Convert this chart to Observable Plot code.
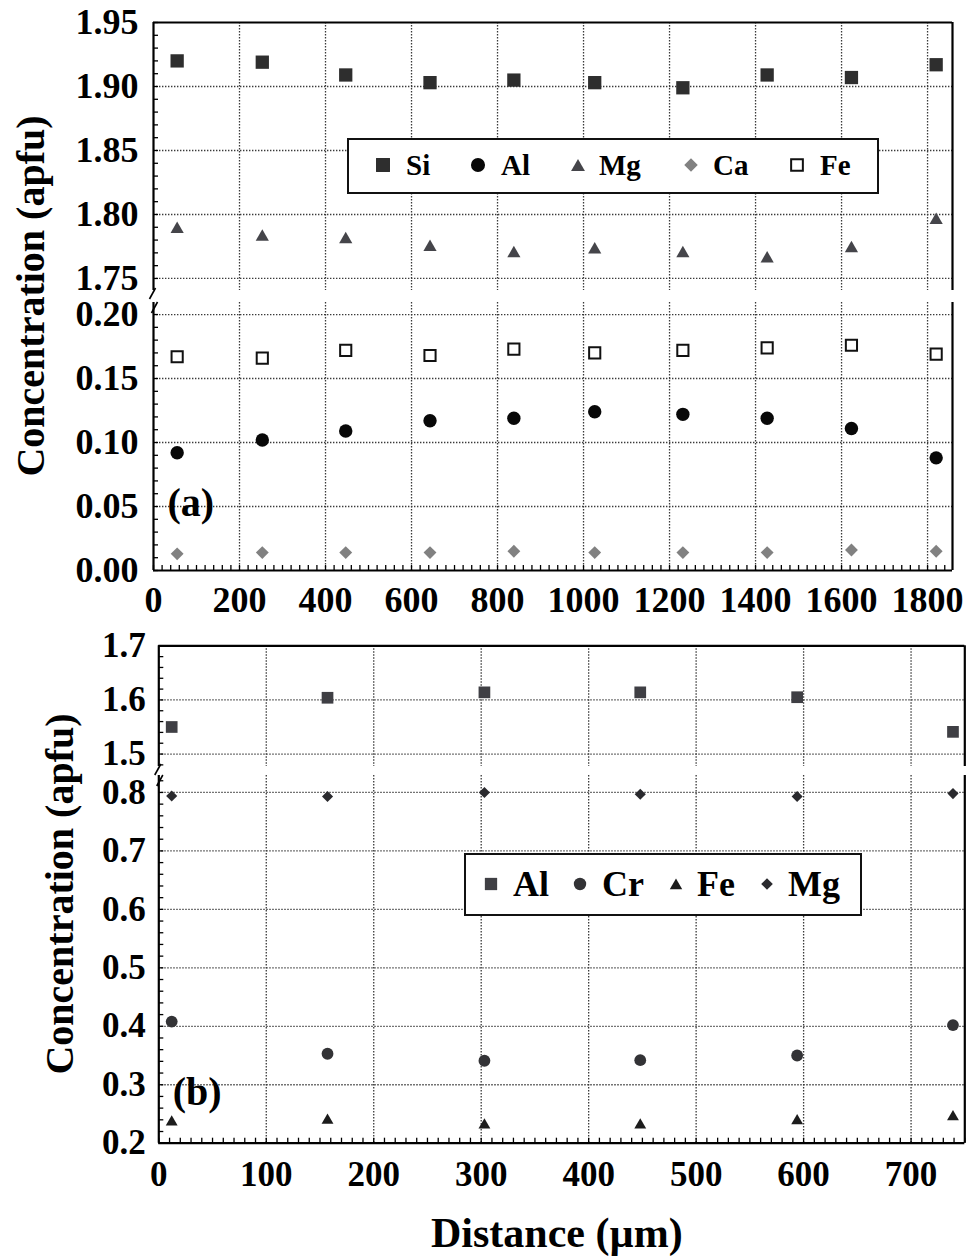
<!DOCTYPE html>
<html><head><meta charset="utf-8">
<script src="https://cdn.jsdelivr.net/npm/d3@7"></script>
<script src="https://cdn.jsdelivr.net/npm/@observablehq/plot@0.6"></script>
<style>
body{margin:0;background:#fff;}
#wrap{position:relative;width:969px;height:1257px;overflow:hidden;background:#fff;font-family:"Liberation Serif","Times New Roman",serif;font-weight:bold;color:#000;}
#wrap > svg{position:absolute;left:0;}
.legend{position:absolute;box-sizing:border-box;border:2px solid #111;background:#fff;z-index:2;}
.legend svg{position:absolute;overflow:visible;}
.legend span{position:absolute;white-space:nowrap;color:#000;}
.ytitle{position:absolute;white-space:nowrap;transform:translate(-50%,-50%) rotate(-90deg);font-size:40px;line-height:40px;}
</style></head><body><div id="wrap"></div><script>
// ---------- Panel (a) data ----------
const distA = [55, 253, 447, 643, 838, 1026, 1231, 1427, 1623, 1820];
const siA = [1.920, 1.919, 1.909, 1.903, 1.905, 1.903, 1.899, 1.909, 1.907, 1.917];
const alA = [0.092, 0.102, 0.109, 0.117, 0.119, 0.124, 0.122, 0.119, 0.111, 0.088];
const mgA = [1.790, 1.784, 1.782, 1.776, 1.771, 1.774, 1.771, 1.767, 1.775, 1.797];
const caA = [0.013, 0.014, 0.014, 0.014, 0.015, 0.014, 0.014, 0.014, 0.016, 0.015];
const feA = [0.167, 0.166, 0.172, 0.168, 0.173, 0.170, 0.172, 0.174, 0.176, 0.169];
const seriesA = ["Si", "Al", "Mg", "Ca", "Fe"];
const xTicksA = [0, 200, 400, 600, 800, 1000, 1200, 1400, 1600, 1800];
const yTicksALow = [0.00, 0.05, 0.10, 0.15, 0.20];
const yTicksAHigh = [1.75, 1.80, 1.85, 1.90, 1.95];

// ---------- Panel (b) data ----------
const distB = [12, 157, 303, 448, 594, 739];
const alB = [1.550, 1.604, 1.614, 1.614, 1.605, 1.541];
const crB = [0.408, 0.353, 0.341, 0.342, 0.350, 0.402];
const feB = [0.239, 0.242, 0.234, 0.234, 0.241, 0.248];
const mgB = [0.794, 0.793, 0.800, 0.797, 0.793, 0.798];
const seriesB = ["Al", "Cr", "Fe", "Mg"];
const xTicksB = [0, 100, 200, 300, 400, 500, 600, 700];
const yTicksBLow = [0.2, 0.3, 0.4, 0.5, 0.6, 0.7, 0.8];
const yTicksBHigh = [1.5, 1.6, 1.7];

const titleY = "Concentration (apfu)";
const titleX = "Distance (\u00b5m)";

// ---------- styles ----------
const serif = "'Liberation Serif', 'Times New Roman', serif";
const gridStyle = {stroke: "#3a3a3a", strokeOpacity: 1, strokeWidth: 1.3, strokeDasharray: "1.4,1.6"};
const frameStyle = {stroke: "#000", strokeWidth: 2.2};
const tickStyle = {tickSize: 5, fill: "none", stroke: "#000", strokeWidth: 1.3};
const styleA = {
  Si: {symbol: "square", r: 7.5, fill: "#2e2e2e"},
  Al: {symbol: "circle", r: 6.7, fill: "#080808"},
  Mg: {symbol: "triangle", r: 4.9, fill: "#45454a", dy: 1.9},
  Ca: {symbol: "diamond2", r: 5.8, fill: "#818181"},
  Fe: {symbol: "square", r: 6.3, fill: "#fff", stroke: "#111", strokeWidth: 2}
};
const styleB = {
  Al: {symbol: "square", r: 6.6, fill: "#3f3f44"},
  Cr: {symbol: "circle", r: 5.9, fill: "#333336"},
  Fe: {symbol: "triangle", r: 4.4, fill: "#1c1c1c", dy: 1.7},
  Mg: {symbol: "diamond2", r: 5.0, fill: "#2a2a2e"}
};
const valsA = {Si: siA, Al: alA, Mg: mgA, Ca: caA, Fe: feA};
const valsB = {Al: alB, Cr: crB, Fe: feB, Mg: mgB};

const slash = {draw(ctx, size) { const r = Math.sqrt(size / Math.PI); ctx.moveTo(-0.55 * r, r); ctx.lineTo(0.55 * r, -r); }};
const stepRange = (a, b, s) => d3.range(Math.round(a / s), Math.round(b / s) + 1).map(i => +(i * s).toFixed(4));
const svgStyle = {fontFamily: serif, fontWeight: "bold", background: "transparent", overflow: "visible", color: "#000"};

// one segment of a broken-axis panel
function segment({top, height, margins, xMax, yDomain, upper, xTicks, yTicks, yFmt, minorX, minorY,
                  series, vals, dist, styles, fs, xPad, yPad, extra}) {
  const inDomain = v => v >= yDomain[0] && v <= yDomain[1];
  const marks = [
    Plot.ruleX(xTicks.filter(d => d > 0), gridStyle),
    Plot.ruleY(yTicks.filter(d => d > yDomain[0] && d < yDomain[1]), gridStyle),
    Plot.axisY({ticks: minorY, ...tickStyle, dx: 5}),
    Plot.axisY({ticks: yTicks, tickSize: 0, tickPadding: yPad, fontSize: fs, label: null, tickFormat: yFmt}),
    Plot.ruleX([0, xMax], frameStyle),
    Plot.ruleY([upper ? yDomain[1] : yDomain[0]], frameStyle),
    Plot.dot([0], {frameAnchor: upper ? "bottom-left" : "top-left", dx: upper ? -1 : 1, dy: upper ? 3 : 5,
                   symbol: slash, r: 5.5, stroke: "#000", strokeWidth: 1.6, fill: "none"}),
    ...series.map(name => {
      const data = dist.map((x, i) => ({x, y: vals[name][i]})).filter(d => inDomain(d.y));
      return Plot.dot(data, {x: "x", y: "y", ...styles[name]});
    })
  ];
  if (!upper) {
    marks.push(
      Plot.axisX({ticks: minorX, ...tickStyle, dy: -5}),
      Plot.axisX({ticks: xTicks, tickSize: 0, tickPadding: xPad, fontSize: fs, label: null, tickFormat: d => String(d)})
    );
  }
  const svg = Plot.plot({
    width: 969, height, ...margins,
    style: svgStyle,
    x: {domain: [0, xMax], label: null, axis: null},
    y: {domain: yDomain, label: null, axis: null},
    marks: [...marks, ...(extra || [])]
  });
  svg.style.top = top + "px";
  return svg;
}

const wrap = document.getElementById("wrap");
const commonA = {xMax: 1858, xTicks: xTicksA, yFmt: d3.format(".2f"), minorX: stepRange(0, 1840, 20),
  series: seriesA, vals: valsA, dist: distA, styles: styleA, fs: 36, xPad: 16, yPad: 15};
wrap.appendChild(segment({...commonA, top: 0, height: 290, upper: true,
  margins: {marginLeft: 153, marginRight: 17, marginTop: 22, marginBottom: 0},
  yDomain: [1.7406, 1.95], yTicks: yTicksAHigh, minorY: stepRange(1.75, 1.95, 0.01)}));
wrap.appendChild(segment({...commonA, top: 290, height: 330, upper: false,
  margins: {marginLeft: 153, marginRight: 17, marginTop: 12, marginBottom: 50},
  yDomain: [0, 0.2094], yTicks: yTicksALow, minorY: stepRange(0, 0.20, 0.01),
  extra: [Plot.text(["(a)"], {text: d => d, frameAnchor: "bottom-left", textAnchor: "start", lineAnchor: "middle", dx: 14, dy: -67, fontSize: 40})]}));

const commonB = {xMax: 750, xTicks: xTicksB, yFmt: d3.format(".1f"), minorX: stepRange(0, 750, 10),
  series: seriesB, vals: valsB, dist: distB, styles: styleB, fs: 35, xPad: 18, yPad: 13};
wrap.appendChild(segment({...commonB, top: 620, height: 146, upper: true,
  margins: {marginLeft: 158.3, marginRight: 4.7, marginTop: 25.3, marginBottom: 0},
  yDomain: [1.477, 1.7], yTicks: yTicksBHigh, minorY: stepRange(1.48, 1.7, 0.02)}));
wrap.appendChild(segment({...commonB, top: 766, height: 491, upper: false,
  margins: {marginLeft: 158.3, marginRight: 4.7, marginTop: 9, marginBottom: 114.3},
  yDomain: [0.2, 0.829], yTicks: yTicksBLow, minorY: stepRange(0.2, 0.82, 0.02),
  extra: [
    Plot.text(["(b)"], {text: d => d, frameAnchor: "bottom-left", textAnchor: "start", lineAnchor: "middle", dx: 14, dy: -50.7, fontSize: 40}),
    Plot.text([titleX], {text: d => d, frameAnchor: "bottom", textAnchor: "middle", lineAnchor: "middle", dx: -5, dy: 90, fontSize: 42})
  ]}));

// ---------- y titles ----------
for (const [cx, cy] of [[31, 296], [60, 894]]) {
  const d = document.createElement("div");
  d.className = "ytitle";
  d.textContent = titleY;
  Object.assign(d.style, {left: cx + "px", top: cy + "px"});
  wrap.appendChild(d);
}

// ---------- legends ----------
const symbolTypes = {square: d3.symbolSquare, circle: d3.symbolCircle, triangle: d3.symbolTriangle, diamond2: d3.symbolDiamond2};
function legend({left, top, width, height, cy, fs, items, styles, scale}) {
  const box = document.createElement("div");
  box.className = "legend";
  Object.assign(box.style, {left: left + "px", top: top + "px", width: width + "px", height: height + "px"});
  const ox = left + 2, oy = top + 2;
  for (const it of items) {
    const st = styles[it.name];
    const r = st.r * scale;
    const s = d3.create("svg").attr("width", 1).attr("height", 1)
      .style("left", (it.mx - ox) + "px").style("top", (cy - oy) + "px");
    s.append("path")
      .attr("d", d3.symbol(symbolTypes[st.symbol], Math.PI * r * r)())
      .attr("transform", `translate(0,${st.dy || 0})`)
      .attr("fill", st.fill).attr("stroke", st.stroke || "none").attr("stroke-width", st.strokeWidth || 0);
    box.appendChild(s.node());
    const t = document.createElement("span");
    t.textContent = it.name;
    Object.assign(t.style, {left: (it.tx - ox) + "px", top: (cy - oy - fs / 2) + "px", fontSize: fs + "px", lineHeight: fs + "px"});
    box.appendChild(t);
  }
  wrap.appendChild(box);
}
const legendPosA = [[383, 406], [478, 501], [578, 599], [691, 713], [797, 820]];
legend({left: 347, top: 138, width: 532, height: 56, cy: 165, fs: 29, styles: styleA, scale: 1.05,
  items: seriesA.map((name, i) => ({name, mx: legendPosA[i][0], tx: legendPosA[i][1]}))});
const legendPosB = [[491, 513], [580, 602], [676, 697], [767, 788]];
legend({left: 464, top: 853, width: 398, height: 63, cy: 884, fs: 36, styles: styleB, scale: 1.05,
  items: seriesB.map((name, i) => ({name, mx: legendPosB[i][0], tx: legendPosB[i][1]}))});
</script></body></html>
